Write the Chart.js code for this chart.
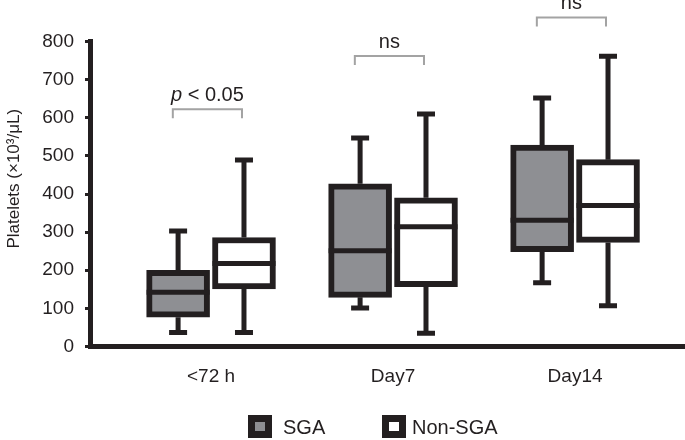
<!DOCTYPE html>
<html>
<head>
<meta charset="utf-8">
<script src="https://cdn.jsdelivr.net/npm/chart.js@4.4.1/dist/chart.umd.min.js"></script>
<style>
  html, body { margin: 0; padding: 0; background: #fff; }
  #wrap { position: relative; width: 685px; height: 440px; }
  canvas { position: absolute; left: 0; top: 0; }
  .sw { position: absolute; width: 24px; height: 23px; background: #231f20; }
  .sw span { position: absolute; left: 7px; top: 7px; width: 10px; height: 9px; }
  .lt { position: absolute; font-family: "Liberation Sans", Arial, sans-serif; font-size: 20px; color: #231f20; line-height: 24px; }
</style>
</head>
<body>
<div id="wrap">
  <canvas id="c" width="685" height="440"></canvas>
  <div class="sw" style="left:248px;top:415px"><span style="background:#8e8f93"></span></div>
  <div class="lt" style="left:283px;top:415px">SGA</div>
  <div class="sw" style="left:382px;top:415px"><span style="background:#ffffff"></span></div>
  <div class="lt" style="left:412px;top:415px">Non-SGA</div>
</div>
<script>
// ---- data ----
const categories = ['<72 h', 'Day7', 'Day14'];
const sgaMin    = [37, 101, 167];
const sgaQ1     = [77, 129, 249];
const sgaMedian = [142, 251, 331];
const sgaQ3     = [200, 427, 528];
const sgaMax    = [303, 547, 652];
const nonMin    = [37, 35, 107];
const nonQ1     = [151, 157, 273];
const nonMedian = [218, 314, 370];
const nonQ3     = [286, 390, 490];
const nonMax    = [489, 610, 761];
const yTicks = [0, 100, 200, 300, 400, 500, 600, 700, 800];
const bracketLevels = [622, 762, 863];
const bracketLabels = ['p < 0.05', 'ns', 'ns'];
const yTitle = 'Platelets (×10³/μL)';

// ---- styling ----
const DARK = '#231f20';
const GRAY = '#8e8f93';
const FONT = '"Liberation Sans", Arial, sans-serif';
const OFF = 0.181;

const stats = [
  { min: sgaMin, med: sgaMedian, max: sgaMax },
  { min: nonMin, med: nonMedian, max: nonMax }
];

function boxData(q1, q3, off) {
  return categories.map((c, i) => ({ x: i + off, y: [q1[i], q3[i]] }));
}

const boxPlugin = {
  id: 'boxPlugin',
  beforeDatasetsDraw(chart) {
    const ctx = chart.ctx, ys = chart.scales.y;
    ctx.save();
    ctx.strokeStyle = DARK;
    ctx.lineWidth = 5;
    ctx.lineCap = 'butt';
    chart.data.datasets.forEach((ds, di) => {
      const meta = chart.getDatasetMeta(di);
      meta.data.forEach((el, j) => {
        const x = el.x;
        const yMax = ys.getPixelForValue(stats[di].max[j]);
        const yMin = ys.getPixelForValue(stats[di].min[j]);
        const yQ3 = ys.getPixelForValue(ds.data[j].y[1]);
        const yQ1 = ys.getPixelForValue(ds.data[j].y[0]);
        ctx.beginPath();
        ctx.moveTo(x, yQ3); ctx.lineTo(x, yMax);
        ctx.moveTo(x, yQ1); ctx.lineTo(x, yMin);
        ctx.moveTo(x - 9, yMax); ctx.lineTo(x + 9, yMax);
        ctx.moveTo(x - 9, yMin); ctx.lineTo(x + 9, yMin);
        ctx.stroke();
      });
    });
    ctx.restore();
  },
  afterDatasetsDraw(chart) {
    const ctx = chart.ctx, ys = chart.scales.y, xs = chart.scales.x;
    ctx.save();
    ctx.strokeStyle = DARK;
    ctx.lineWidth = 5;
    chart.data.datasets.forEach((ds, di) => {
      const meta = chart.getDatasetMeta(di);
      meta.data.forEach((el, j) => {
        const y = ys.getPixelForValue(stats[di].med[j]);
        ctx.beginPath();
        ctx.moveTo(el.x - el.width / 2, y);
        ctx.lineTo(el.x + el.width / 2, y);
        ctx.stroke();
      });
    });
    // significance brackets
    ctx.strokeStyle = '#a3a3a3';
    ctx.lineWidth = 2;
    ctx.fillStyle = DARK;
    ctx.textBaseline = 'alphabetic';
    bracketLevels.forEach((lvl, j) => {
      const x0 = xs.getPixelForValue(j - 0.21);
      const x1 = xs.getPixelForValue(j + 0.17);
      const yT = ys.getPixelForValue(lvl);
      ctx.beginPath();
      ctx.moveTo(x0, yT + 9); ctx.lineTo(x0, yT); ctx.lineTo(x1, yT); ctx.lineTo(x1, yT + 9);
      ctx.stroke();
      const cx = xs.getPixelForValue(j - 0.02);
      const label = bracketLabels[j];
      const by = yT - 8;
      if (label.startsWith('p ')) {
        ctx.font = 'italic 20px ' + FONT;
        const wp = ctx.measureText('p').width;
        ctx.font = '20px ' + FONT;
        const rest = label.slice(1);
        const wr = ctx.measureText(rest).width;
        const sx = cx - (wp + wr) / 2;
        ctx.textAlign = 'left';
        ctx.font = 'italic 20px ' + FONT;
        ctx.fillText('p', sx, by);
        ctx.font = '20px ' + FONT;
        ctx.fillText(rest, sx + wp, by);
      } else {
        ctx.font = '20px ' + FONT;
        ctx.textAlign = 'center';
        ctx.fillText(label, cx, by);
      }
    });
    // y-axis title
    ctx.translate(14, ys.getPixelForValue(440));
    ctx.rotate(-Math.PI / 2);
    ctx.font = '17px ' + FONT;
    ctx.textAlign = 'center';
    ctx.textBaseline = 'middle';
    ctx.fillText(yTitle, 0, 0);
    ctx.restore();
  }
};

new Chart(document.getElementById('c'), {
  type: 'bar',
  data: {
    datasets: [
      {
        label: 'SGA',
        data: boxData(sgaQ1, sgaQ3, -OFF),
        backgroundColor: GRAY,
        borderColor: DARK,
        borderWidth: 6,
        borderSkipped: false,
        grouped: false,
        categoryPercentage: 1,
        barPercentage: 1,
        maxBarThickness: 63
      },
      {
        label: 'Non-SGA',
        data: boxData(nonQ1, nonQ3, OFF),
        backgroundColor: '#ffffff',
        borderColor: DARK,
        borderWidth: 6,
        borderSkipped: false,
        grouped: false,
        categoryPercentage: 1,
        barPercentage: 1,
        maxBarThickness: 63
      }
    ]
  },
  options: {
    responsive: false,
    animation: false,
    layout: { padding: { top: 41.5, right: 0, bottom: 0, left: 0 } },
    plugins: { legend: { display: false }, tooltip: { enabled: false } },
    scales: {
      x: {
        type: 'linear',
        offset: false,
        min: -0.665,
        max: 2.604,
        afterBuildTicks: (s) => { s.ticks = categories.map((c, i) => ({ value: i })); },
        afterFit: (s) => { s.height = 93.5; },
        grid: { display: false, drawTicks: false, offset: false },
        border: { display: true, color: DARK, width: 5 },
        ticks: {
          padding: 19,
          color: DARK,
          font: { family: FONT, size: 19 },
          maxRotation: 0,
          autoSkip: false,
          callback: (v) => categories[v]
        }
      },
      y: {
        min: 0,
        max: 800,
        afterBuildTicks: (s) => { s.ticks = yTicks.map(v => ({ value: v })); },
        afterFit: (s) => { s.width = 90; },
        grid: { drawOnChartArea: false, drawTicks: true, tickLength: 5, lineWidth: 3, color: DARK },
        border: { display: true, color: DARK, width: 5 },
        ticks: {
          padding: 11,
          color: DARK,
          font: { family: FONT, size: 19 }
        },
        title: { display: false }
      }
    }
  },
  plugins: [boxPlugin]
});
</script>
</body>
</html>
